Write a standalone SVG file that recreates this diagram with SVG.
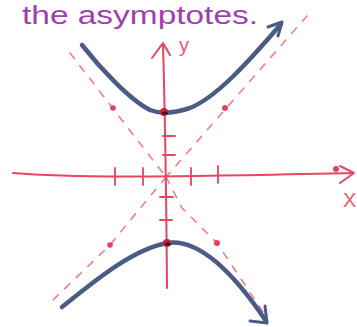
<svg xmlns="http://www.w3.org/2000/svg" width="357" height="327" viewBox="0 0 357 327">
<style>
.axis{fill:none;stroke:#e8455e;stroke-width:2;stroke-linecap:round;stroke-linejoin:round}
.tick{fill:none;stroke:#e8455e;stroke-width:1.8;stroke-linecap:round}
.asym{fill:none;stroke:#ee7d8d;stroke-width:1.6;stroke-dasharray:7 9;stroke-linecap:round}
.curve{fill:none;stroke:#4b5c84;stroke-width:4.5;stroke-linecap:round;stroke-linejoin:round}
.arrow{fill:none;stroke:#4b5c84;stroke-width:3;stroke-linecap:round;stroke-linejoin:round}
.pt{fill:#e8405a}
.title{font-family:"Liberation Sans","DejaVu Sans",sans-serif;font-size:26px;fill:#a03fb0}
.lbl{font-family:"Liberation Sans","DejaVu Sans",sans-serif;font-size:20px;fill:#ee5a70}
</style>
<rect width="357" height="327" fill="#ffffff"/>
<g id="title">
<text class="title" x="22" y="24" textLength="236" lengthAdjust="spacingAndGlyphs">the asymptotes.</text>
</g>
<g id="asymptotes">
<path class="asym" d="M70,53 L166,177"/>
<path class="asym" d="M307,16 L166,177"/>
<path class="asym" d="M166,177 L137,212 L110,245 L53,300"/>
<path class="asym" d="M166,177 L182,208 L217,243 L267,318"/>
</g>
<g id="axes">
<path class="axis" d="M13,173 C80,179 200,176 353,173"/>
<path class="axis" d="M340,166 L354,173 L340,183"/>
<path class="axis" d="M163,44 Q166,150 167,288"/>
<path class="axis" d="M152,58 L163,43 L170,55"/>
<path class="tick" d="M115,168 L115,185 M143,168 L143,185 M191,168 L191,185 M218,166 L218,183"/>
<path class="tick" d="M163,136 L175,136 M163,155 L175,155 M160,197 L173,197 M160,220 L172,220"/>
</g>
<g id="labels">
<text class="lbl" x="179" y="52">y</text>
<text class="lbl" x="343" y="207">X</text>
</g>
<g id="points">
<circle class="pt" cx="113" cy="108" r="2.8"/>
<circle class="pt" cx="225" cy="108" r="3"/>
<circle class="pt" cx="110" cy="245" r="2.8"/>
<circle class="pt" cx="217" cy="243" r="3"/>
<circle class="pt" cx="336" cy="169" r="3"/>
</g>
<g id="upper-branch">
<path class="curve" d="M82,45 C100,68 130,100 150,110 C160,114 175,113 190,108 C215,98 245,66 281,24"/>
<path class="arrow" d="M268,27 L282,22 L278,36"/>
</g>
<g id="lower-branch">
<path class="curve" d="M62,307 C90,285 130,250 167,243 C200,238 235,275 266,321"/>
<path class="arrow" d="M250,321 L267,323 L265,306"/>
</g>
<g id="vertices">
<circle cx="164" cy="112" r="4" fill="#c8203c"/>
<ellipse cx="165" cy="113" rx="3" ry="1.6" fill="#2a1a22"/>
<circle cx="167" cy="243" r="4" fill="#c8203c"/>
<ellipse cx="168" cy="244" rx="3" ry="1.6" fill="#2a1a22"/>
</g>
</svg>
